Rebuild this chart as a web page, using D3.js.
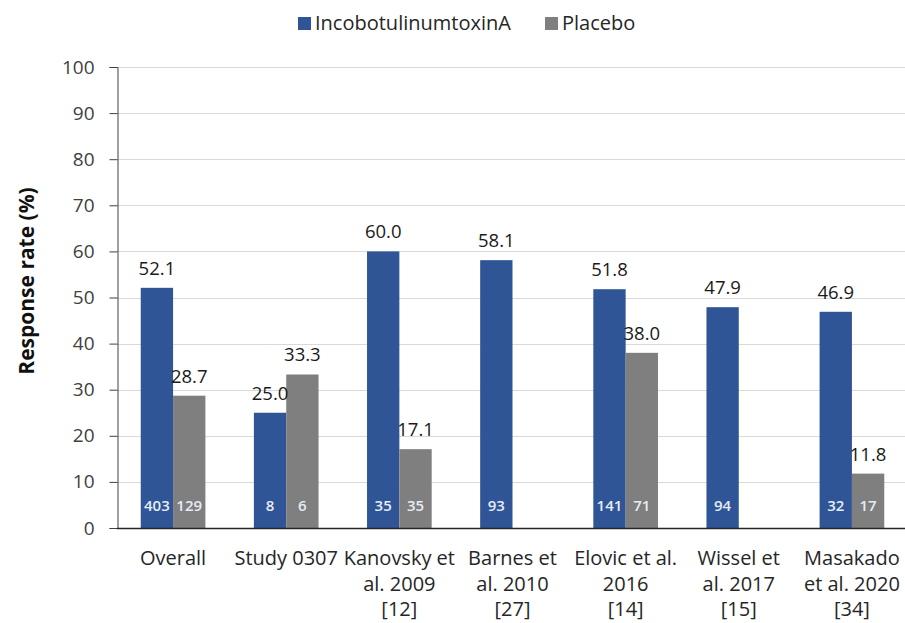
<!DOCTYPE html>
<html>
<head>
<meta charset="utf-8">
<script src="https://cdn.jsdelivr.net/npm/d3@7"></script>
<style>
  html, body { margin: 0; padding: 0; background: #fff; }
  svg { display: block; font-family: "Open Sans", "Noto Sans", sans-serif; }
</style>
</head>
<body>
<svg id="chart" width="905" height="623"></svg>
<script>
// Study labels (wrapped onto lines)
const studies = ["Overall", "Study 0307", "Kanovsky 2009", "Barnes 2010", "Elovic 2016", "Wissel 2017", "Masakado 2020"];
const studyLines = [
  ["Overall"],
  ["Study 0307"],
  ["Kanovsky et", "al. 2009", "[12]"],
  ["Barnes et", "al. 2010", "[27]"],
  ["Elovic et al.", "2016", "[14]"],
  ["Wissel et", "al. 2017", "[15]"],
  ["Masakado", "et al. 2020", "[34]"]
];
const seriesNames = ["IncobotulinumtoxinA", "Placebo"];
// Response rates (%); null = no placebo arm
const incoRates = [52.1, 25.0, 60.0, 58.1, 51.8, 47.9, 46.9];
const placeboRates = [28.7, 33.3, 17.1, null, 38.0, null, 11.8];
// Number of patients per arm
const incoN = [403, 8, 35, 93, 141, 94, 32];
const placeboN = [129, 6, 35, null, 71, null, 17];
const yTicks = [0, 10, 20, 30, 40, 50, 60, 70, 80, 90, 100];

const colors = { "IncobotulinumtoxinA": "#2F5597", "Placebo": "#7F7F7F" };

const svg = d3.select("#chart");
const W = 905;

const x0 = d3.scaleBand().domain(studies).range([116.5, 908.5]).padding(0);
const x1 = d3.scaleBand().domain(seriesNames).range([0, x0.bandwidth()])
  .paddingInner(0).paddingOuter(0.75);
const y = d3.scaleLinear().domain([0, 100]).range([528, 67]);

// Gridlines
svg.append("g").selectAll("line").data(yTicks.filter(d => d > 0)).join("line")
  .attr("x1", 117).attr("x2", W)
  .attr("y1", d => Math.round(y(d)) + 0.5).attr("y2", d => Math.round(y(d)) + 0.5)
  .attr("stroke", "#d9d9d9").attr("stroke-width", 1);

// Y axis
const yAxis = svg.append("g")
  .attr("transform", "translate(117.5,0)")
  .call(d3.axisLeft(y).tickValues(yTicks).tickSize(8).tickPadding(15));
yAxis.select(".domain").attr("stroke", "#404040");
yAxis.selectAll(".tick line").attr("stroke", "#404040");
yAxis.selectAll(".tick text")
  .attr("font-size", 19).attr("fill", "#404040")
  .attr("font-family", "'Open Sans', sans-serif");

// Y title
svg.append("text")
  .attr("transform", "translate(34,281) rotate(-90)")
  .attr("text-anchor", "middle")
  .attr("font-size", 21).attr("font-weight", "bold").attr("fill", "#111")
  .text("Response rate (%)");

// Bars
const rows = studies.map((s, i) => ({
  study: s,
  vals: [
    { key: "IncobotulinumtoxinA", v: incoRates[i], n: incoN[i] },
    { key: "Placebo", v: placeboRates[i], n: placeboN[i] }
  ].filter(d => d.v !== null)
}));

const groups = svg.append("g").selectAll("g").data(rows).join("g")
  .attr("transform", d => `translate(${x0(d.study)},0)`);

groups.selectAll("rect").data(d => d.vals).join("rect")
  .attr("x", d => x1(d.key))
  .attr("width", x1.bandwidth())
  .attr("y", d => y(d.v))
  .attr("height", d => y(0) - y(d.v))
  .attr("fill", d => colors[d.key]);

// Value labels
groups.selectAll("text.val").data(d => d.vals).join("text")
  .attr("class", "val")
  .attr("x", d => x1(d.key) + x1.bandwidth() / 2)
  .attr("y", d => y(d.v) - 13)
  .attr("text-anchor", "middle")
  .attr("font-size", 18.5).attr("fill", "#1a1a1a")
  .text(d => d.v.toFixed(1));

// Patient counts inside bars
groups.selectAll("text.n").data(d => d.vals).join("text")
  .attr("class", "n")
  .attr("x", d => x1(d.key) + x1.bandwidth() / 2)
  .attr("y", 511)
  .attr("text-anchor", "middle")
  .attr("font-size", 15).attr("font-weight", 600).attr("fill", "#e6ecf5")
  .text(d => d.n);

// X axis line
svg.append("line")
  .attr("x1", 117).attr("x2", W)
  .attr("y1", 528.5).attr("y2", 528.5)
  .attr("stroke", "#262626").attr("stroke-width", 1.3);

// Category labels
const xl = svg.append("g").selectAll("text").data(studies).join("text")
  .attr("x", d => x0(d) + x0.bandwidth() / 2)
  .attr("y", 565)
  .attr("text-anchor", "middle")
  .attr("font-size", 20).attr("fill", "#262626");
xl.selectAll("tspan").data((d, i) => studyLines[i]).join("tspan")
  .attr("x", function () { return d3.select(this.parentNode).attr("x"); })
  .attr("dy", (d, i) => i === 0 ? 0 : 25.5)
  .text(d => d);

// Legend
const legend = svg.append("g");
const legendItems = [
  { key: "IncobotulinumtoxinA", x: 298 },
  { key: "Placebo", x: 545 }
];
legend.selectAll("rect").data(legendItems).join("rect")
  .attr("x", d => d.x).attr("y", 17).attr("width", 13).attr("height", 13)
  .attr("fill", d => colors[d.key]);
legend.selectAll("text").data(legendItems).join("text")
  .attr("x", d => d.x + 17).attr("y", 30)
  .attr("font-size", 20).attr("fill", "#262626")
  .text(d => d.key);
</script>
</body>
</html>
